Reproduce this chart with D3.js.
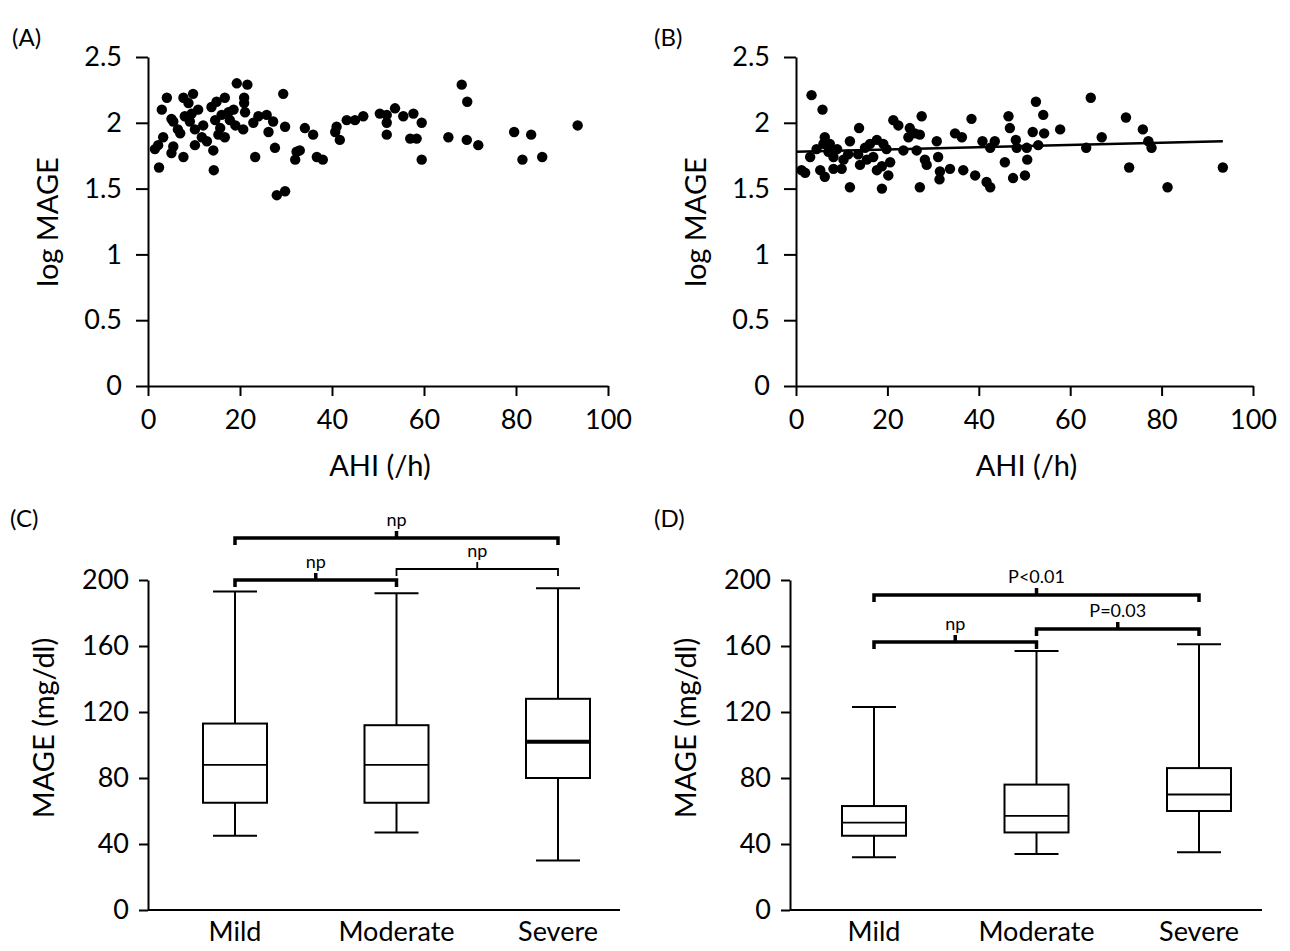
<!DOCTYPE html>
<html>
<head>
<meta charset="utf-8">
<script src="https://cdn.jsdelivr.net/npm/d3@7"></script>
<style>
  body { margin: 0; background: #fff; }
  text { font-family: Lato, "Open Sans", sans-serif; fill: #000; }
</style>
</head>
<body>
<svg width="1290" height="951"></svg>
<script>
// (A) AHI vs log MAGE
var ahiA = [4.1, 3.0, 5.1, 5.5, 3.3, 2.2, 5.5, 5.1, 7.7, 2.4, 7.7, 9.8, 8.8, 9.5, 9.1, 10.9, 7.0, 10.2, 11.7, 10.2,
  14.2, 14.3, 13.8, 14.9, 16.7, 14.6, 16.0, 17.5, 18.6, 17.8, 15.7, 15.3, 16.7, 19.3, 21.6, 20.9, 21.1, 20.9, 20.7, 22.9,
  24.0, 25.8, 26.2, 27.2, 23.3, 27.6, 29.4, 29.8, 28.0, 29.8, 32.3, 32.0, 34.1, 35.9, 33.0, 36.7, 38.0, 41.0, 40.7, 41.7,
  43.2, 45.0, 46.8, 50.4, 51.9, 51.9, 51.9, 53.7, 55.5, 57.7, 59.5, 57.0, 58.4, 59.5, 65.3, 68.2, 69.4, 69.3, 71.8, 79.6,
  83.3, 81.4, 85.7, 93.4, 1.5, 6.5, 12.0, 12.8, 19.0, 8.0];
var logMageA = [2.19, 2.10, 2.03, 2.01, 1.89, 1.83, 1.82, 1.77, 1.74, 1.66, 2.19, 2.22, 2.15, 2.07, 2.01, 2.10, 1.92, 1.95, 1.89, 1.83,
  1.79, 1.64, 2.12, 2.16, 2.19, 2.02, 2.06, 2.08, 2.10, 2.02, 1.96, 1.91, 1.89, 2.30, 2.29, 2.19, 2.08, 2.15, 1.95, 2.00,
  2.05, 2.06, 1.93, 2.01, 1.74, 1.81, 2.22, 1.97, 1.45, 1.48, 1.78, 1.72, 1.96, 1.91, 1.79, 1.74, 1.72, 1.97, 1.93, 1.87,
  2.02, 2.02, 2.05, 2.07, 2.06, 2.00, 1.91, 2.11, 2.05, 2.07, 2.00, 1.88, 1.88, 1.72, 1.89, 2.29, 2.16, 1.87, 1.83, 1.93,
  1.91, 1.72, 1.74, 1.98, 1.80, 1.95, 1.98, 1.86, 1.98, 2.05];

// (B) AHI vs log MAGE with trend line
var ahiB = [3.4, 5.8, 13.8, 11.8, 6.3, 6.0, 7.4, 7.1, 8.2, 3.1, 1.2, 2.0, 5.3, 6.3, 8.2, 10.0, 10.4, 11.4, 11.8, 13.6,
  14.0, 15.1, 16.2, 17.7, 19.1, 16.9, 17.7, 18.8, 20.6, 20.2, 18.8, 21.3, 22.4, 23.5, 24.9, 26.0, 24.6, 27.5, 27.1, 26.4,
  27.1, 28.2, 28.6, 30.8, 31.1, 31.5, 31.4, 34.8, 36.3, 38.4, 33.7, 36.6, 39.2, 40.8, 42.5, 43.5, 41.7, 42.5, 45.7, 46.5,
  46.8, 48.1, 48.3, 47.5, 50.1, 50.6, 50.5, 51.8, 52.5, 54.1, 54.3, 53.0, 57.8, 63.5, 64.5, 66.9, 72.2, 75.9, 77.1, 77.8,
  72.9, 81.3, 93.4, 9.0, 4.5, 15.5, 19.8];
var logMageB = [2.21, 2.10, 1.96, 1.86, 1.89, 1.84, 1.84, 1.78, 1.74, 1.74, 1.64, 1.62, 1.64, 1.59, 1.65, 1.65, 1.72, 1.76, 1.51, 1.76,
  1.68, 1.81, 1.84, 1.87, 1.84, 1.74, 1.64, 1.67, 1.70, 1.60, 1.50, 2.02, 1.98, 1.79, 1.96, 1.92, 1.89, 2.05, 1.91, 1.79,
  1.51, 1.72, 1.68, 1.86, 1.74, 1.63, 1.57, 1.92, 1.89, 2.03, 1.65, 1.64, 1.60, 1.86, 1.81, 1.86, 1.55, 1.51, 1.70, 2.05,
  1.96, 1.87, 1.81, 1.58, 1.60, 1.72, 1.81, 1.93, 2.16, 2.06, 1.92, 1.83, 1.95, 1.81, 2.19, 1.89, 2.04, 1.95, 1.86, 1.81,
  1.66, 1.51, 1.66, 1.80, 1.80, 1.72, 1.80];
var trendB = { intercept: 1.78, slope: 0.00086, xEnd: 93.4 };

var xTicksAHI = [0, 20, 40, 60, 80, 100];
var yTicksLog = [0, 0.5, 1, 1.5, 2, 2.5];

// (C) and (D) MAGE by severity
var groups = ['Mild', 'Moderate', 'Severe'];
var boxC = [
  { min: 45, q1: 65, median: 88, q3: 113, max: 193 },
  { min: 47, q1: 65, median: 88, q3: 112, max: 192 },
  { min: 30, q1: 80, median: 102, q3: 128, max: 195 }
];
var boxD = [
  { min: 32, q1: 45, median: 53, q3: 63, max: 123 },
  { min: 34, q1: 47, median: 57, q3: 76, max: 157 },
  { min: 35, q1: 60, median: 70, q3: 86, max: 161 }
];
var yTicksMage = [0, 40, 80, 120, 160, 200];
var compC = [
  { from: 'Mild', to: 'Severe', label: 'np' },
  { from: 'Mild', to: 'Moderate', label: 'np' },
  { from: 'Moderate', to: 'Severe', label: 'np' }
];
var compD = [
  { from: 'Mild', to: 'Severe', label: 'P<0.01' },
  { from: 'Mild', to: 'Moderate', label: 'np' },
  { from: 'Moderate', to: 'Severe', label: 'P=0.03' }
];

var svg = d3.select('svg');

function styleAxis(g) {
  g.selectAll('path.domain').attr('stroke', '#000').attr('stroke-width', 2);
  g.selectAll('.tick line').attr('stroke', '#000').attr('stroke-width', 2);
  g.selectAll('.tick text').style('font-size', '27px').attr('fill', '#000');
}

function scatter(opt) {
  var x = d3.scaleLinear().domain([0, 100]).range([opt.x0, opt.x1]);
  var y = d3.scaleLinear().domain([0, 2.5]).range([386, 57]);
  var g = svg.append('g');

  g.append('g').attr('transform', 'translate(0,386)')
    .call(d3.axisBottom(x).tickValues(xTicksAHI).tickSize(10).tickPadding(14).tickSizeOuter(0))
    .call(styleAxis);
  g.append('g').attr('transform', 'translate(' + opt.x0 + ',0)')
    .call(d3.axisLeft(y).tickValues(yTicksLog).tickFormat(d3.format('')).tickSize(12).tickPadding(14).tickSizeOuter(0))
    .call(styleAxis);

  g.selectAll('circle').data(d3.zip(opt.xs, opt.ys)).enter()
    .append('circle')
    .attr('cx', function(d) { return x(d[0]); })
    .attr('cy', function(d) { return y(d[1]); })
    .attr('r', 5.2)
    .attr('fill', '#000');

  if (opt.trend) {
    var t = opt.trend;
    g.append('line')
      .attr('x1', x(0)).attr('y1', y(t.intercept))
      .attr('x2', x(t.xEnd)).attr('y2', y(t.intercept + t.slope * t.xEnd))
      .attr('stroke', '#000').attr('stroke-width', 2.5);
  }

  g.append('text').attr('x', (opt.x0 + opt.x1) / 2 + 2).attr('y', 476)
    .attr('text-anchor', 'middle').style('font-size', '29px').text('AHI (/h)');
  g.append('text').attr('transform', 'translate(' + (opt.x0 - 90) + ',222) rotate(-90)')
    .attr('text-anchor', 'middle').style('font-size', '29px').text('log MAGE');
  g.append('text').attr('x', opt.labelX).attr('y', 46).style('font-size', '24px').text(opt.label);
}

function boxplot(opt) {
  var x = d3.scalePoint().domain(groups).range([opt.c0, opt.c1]);
  var y = d3.scaleLinear().domain([0, 200]).range([910, 580]);
  var g = svg.append('g');
  var bw = 64, cw = 44;

  g.append('line').attr('x1', opt.ax).attr('x2', opt.ax + 472).attr('y1', 910).attr('y2', 910)
    .attr('stroke', '#000').attr('stroke-width', 2);
  g.append('g').attr('transform', 'translate(' + opt.ax + ',0)')
    .call(d3.axisLeft(y).tickValues(yTicksMage).tickSize(9).tickPadding(10).tickSizeOuter(0))
    .call(styleAxis);

  var b = g.selectAll('g.box').data(opt.data).enter().append('g').attr('class', 'box')
    .attr('transform', function(d, i) { return 'translate(' + x(groups[i]) + ',0)'; });
  b.append('line').attr('y1', function(d) { return y(d.max); }).attr('y2', function(d) { return y(d.q3); })
    .attr('stroke', '#000').attr('stroke-width', 2);
  b.append('line').attr('y1', function(d) { return y(d.q1); }).attr('y2', function(d) { return y(d.min); })
    .attr('stroke', '#000').attr('stroke-width', 2);
  b.append('line').attr('x1', -cw / 2).attr('x2', cw / 2)
    .attr('y1', function(d) { return y(d.max); }).attr('y2', function(d) { return y(d.max); })
    .attr('stroke', '#000').attr('stroke-width', 2);
  b.append('line').attr('x1', -cw / 2).attr('x2', cw / 2)
    .attr('y1', function(d) { return y(d.min); }).attr('y2', function(d) { return y(d.min); })
    .attr('stroke', '#000').attr('stroke-width', 2);
  b.append('rect').attr('x', -bw / 2).attr('width', bw)
    .attr('y', function(d) { return y(d.q3); })
    .attr('height', function(d) { return y(d.q1) - y(d.q3); })
    .attr('fill', '#fff').attr('stroke', '#000').attr('stroke-width', 2);
  b.append('line').attr('x1', -bw / 2).attr('x2', bw / 2)
    .attr('y1', function(d) { return y(d.median); }).attr('y2', function(d) { return y(d.median); })
    .attr('stroke', '#000')
    .attr('stroke-width', function(d, i) { return opt.boldMedian === i ? 4 : 1.8; });

  // comparison brackets
  opt.comps.forEach(function(c, i) {
    var lv = opt.levels[i];
    var xa = x(c.from), xb = x(c.to), xm = (xa + xb) / 2;
    var sw = opt.widths[i];
    g.append('path')
      .attr('d', 'M' + xa + ',' + (lv + 7) + 'V' + lv + 'H' + xb + 'V' + (lv + 7) + 'M' + xm + ',' + lv + 'V' + (lv - 7))
      .attr('fill', 'none').attr('stroke', '#000').attr('stroke-width', sw);
    g.append('text').attr('x', xm).attr('y', lv - 12).attr('text-anchor', 'middle')
      .style('font-size', '18px').text(c.label);
  });

  g.selectAll('text.cat').data(groups).enter().append('text').attr('class', 'cat')
    .attr('x', function(d) { return x(d); }).attr('y', 941)
    .attr('text-anchor', 'middle').style('font-size', '27px').text(function(d) { return d; });
  g.append('text').attr('transform', 'translate(' + (opt.ax - 94) + ',728) rotate(-90)')
    .attr('text-anchor', 'middle').style('font-size', '29px').text('MAGE (mg/dl)');
  g.append('text').attr('x', opt.labelX).attr('y', 527).style('font-size', '24px').text(opt.label);
}

scatter({ x0: 148, x1: 608, xs: ahiA, ys: logMageA, label: '(A)', labelX: 12 });
scatter({ x0: 796, x1: 1253, xs: ahiB, ys: logMageB, trend: trendB, label: '(B)', labelX: 654 });
boxplot({ ax: 148, c0: 235, c1: 558, data: boxC, comps: compC, levels: [538, 580, 569], widths: [3.5, 3.5, 1.8],
  boldMedian: 2, label: '(C)', labelX: 10 });
boxplot({ ax: 790, c0: 874, c1: 1199, data: boxD, comps: compD, levels: [595, 642, 629], widths: [3.5, 3.5, 3.5],
  boldMedian: -1, label: '(D)', labelX: 654 });
</script>
</body>
</html>
